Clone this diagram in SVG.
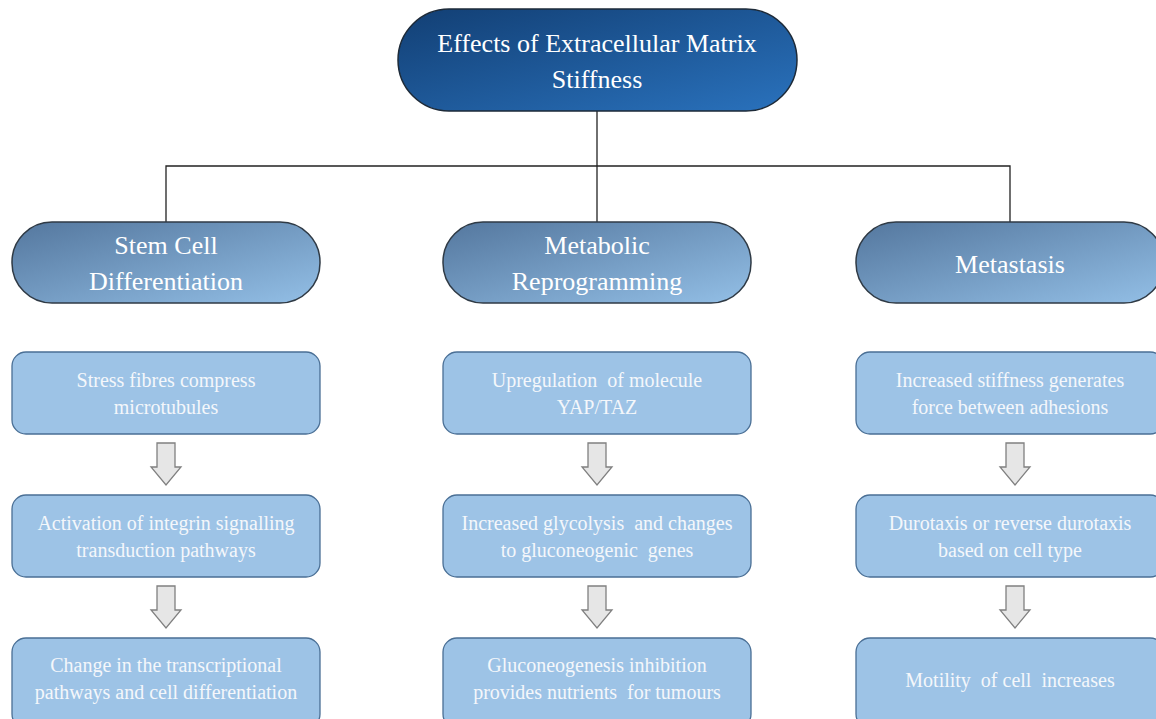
<svg xmlns="http://www.w3.org/2000/svg" width="1156" height="719" viewBox="0 0 1156 719">
<defs>
<linearGradient id="gTop" x1="0" y1="0" x2="1" y2="1">
<stop offset="0" stop-color="#123f74"/>
<stop offset="1" stop-color="#2a72bd"/>
</linearGradient>
<linearGradient id="gCat" x1="0" y1="0" x2="1" y2="1">
<stop offset="0" stop-color="#54779e"/>
<stop offset="1" stop-color="#93bfe6"/>
</linearGradient>
<path id="arrow" d="M-9,0 H9 V24 H15 L0,42 L-15,24 H-9 Z"/>
</defs>
<style>
.top{fill:url(#gTop);stroke:#1d2a38;stroke-width:1.5}
.cat{fill:url(#gCat);stroke:#2f3a45;stroke-width:1.5}
.box{fill:#9dc3e6;stroke:#4a6f95;stroke-width:1.3}
.arr{fill:#e6e6e6;stroke:#808080;stroke-width:1.3}
.conn{stroke:#222;stroke-width:1.3;fill:none}
text{font-family:"Liberation Serif","Times New Roman",serif;fill:#ffffff;text-anchor:middle}
.t1{font-size:26px}
.t2{font-size:26px}
.t3{font-size:20px;fill:#f4f7fb}
.pre{white-space:pre}
</style>
<rect width="1156" height="719" fill="#ffffff"/>
<g id="connectors">
<path class="conn" d="M597,111 V222"/>
<path class="conn" d="M166,222 V166 H1010 V222"/>
<use href="#arrow" class="arr" x="166" y="443"/>
<use href="#arrow" class="arr" x="166" y="586"/>
<use href="#arrow" class="arr" x="597" y="443"/>
<use href="#arrow" class="arr" x="597" y="586"/>
<use href="#arrow" class="arr" x="1015" y="443"/>
<use href="#arrow" class="arr" x="1015" y="586"/>
</g>
<g id="root">
<rect class="top" x="398" y="9" width="399" height="102" rx="51"/>
<text class="t1" x="597" y="52">Effects of Extracellular Matrix</text>
<text class="t1" x="597" y="88">Stiffness</text>
</g>
<g id="stem">
<rect class="cat" x="12" y="222" width="308" height="81" rx="40"/>
<text class="t2" x="166" y="254">Stem Cell</text>
<text class="t2" x="166" y="290">Differentiation</text>
</g>
<g id="metabolic">
<rect class="cat" x="443" y="222" width="308" height="81" rx="40"/>
<text class="t2" x="597" y="254">Metabolic</text>
<text class="t2" x="597" y="290">Reprogramming</text>
</g>
<g id="metastasis">
<rect class="cat" x="856" y="222" width="308" height="81" rx="40"/>
<text class="t2" x="1010" y="273">Metastasis</text>
</g>
<g id="s1">
<rect class="box" x="12" y="352" width="308" height="82" rx="14"/>
<text class="t3" x="166" y="387">Stress fibres compress</text>
<text class="t3" x="166" y="414">microtubules</text>
</g>
<g id="s2">
<rect class="box" x="12" y="495" width="308" height="82" rx="14"/>
<text class="t3" x="166" y="530">Activation of integrin signalling</text>
<text class="t3" x="166" y="557">transduction pathways</text>
</g>
<g id="s3">
<rect class="box" x="12" y="638" width="308" height="90" rx="14"/>
<text class="t3" x="166" y="672">Change in the transcriptional</text>
<text class="t3" x="166" y="699">pathways and cell differentiation</text>
</g>
<g id="m1">
<rect class="box" x="443" y="352" width="308" height="82" rx="14"/>
<text class="t3 pre" x="597" y="387">Upregulation  of molecule</text>
<text class="t3" x="597" y="414">YAP/TAZ</text>
</g>
<g id="m2">
<rect class="box" x="443" y="495" width="308" height="82" rx="14"/>
<text class="t3 pre" x="597" y="530">Increased glycolysis  and changes</text>
<text class="t3 pre" x="597" y="557">to gluconeogenic  genes</text>
</g>
<g id="m3">
<rect class="box" x="443" y="638" width="308" height="90" rx="14"/>
<text class="t3" x="597" y="672">Gluconeogenesis inhibition</text>
<text class="t3 pre" x="597" y="699">provides nutrients  for tumours</text>
</g>
<g id="x1">
<rect class="box" x="856" y="352" width="308" height="82" rx="14"/>
<text class="t3" x="1010" y="387">Increased stiffness generates</text>
<text class="t3" x="1010" y="414">force between adhesions</text>
</g>
<g id="x2">
<rect class="box" x="856" y="495" width="308" height="82" rx="14"/>
<text class="t3" x="1010" y="530">Durotaxis or reverse durotaxis</text>
<text class="t3" x="1010" y="557">based on cell type</text>
</g>
<g id="x3">
<rect class="box" x="856" y="638" width="308" height="90" rx="14"/>
<text class="t3 pre" x="1010" y="687">Motility  of cell  increases</text>
</g>
</svg>
